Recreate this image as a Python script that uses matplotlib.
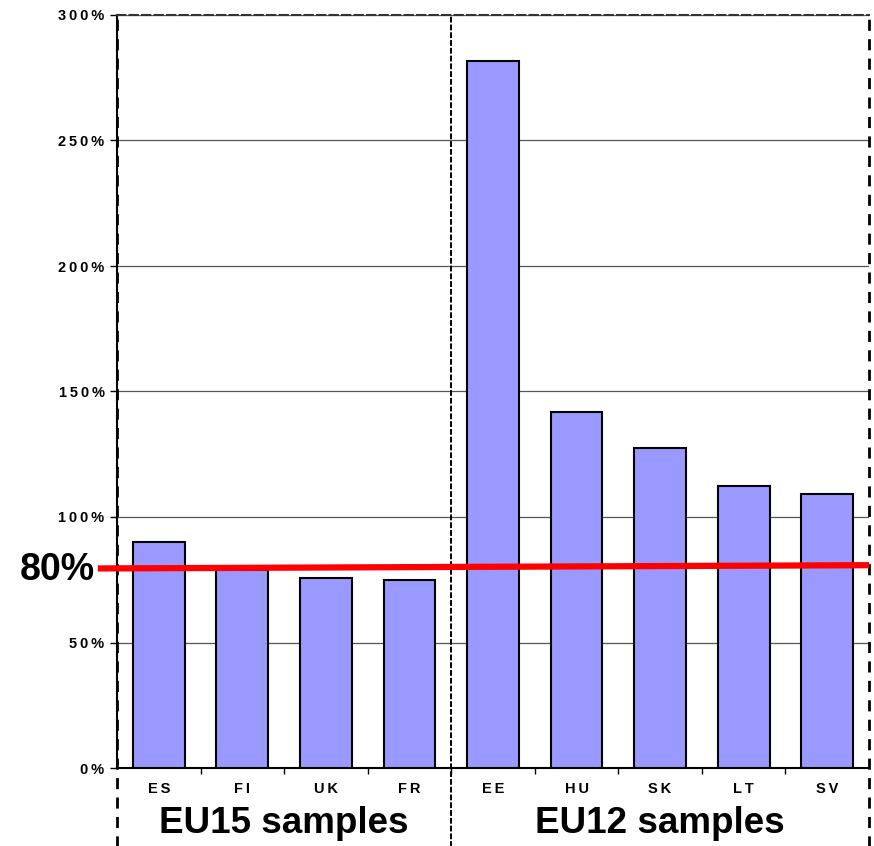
import numpy as np
import matplotlib.pyplot as plt
from matplotlib.ticker import FixedLocator, FuncFormatter

plt.rcParams['font.family'] = ['Liberation Sans', 'DejaVu Sans']

# data
countries = ['ES', 'FI', 'UK', 'FR', 'EE', 'HU', 'SK', 'LT', 'SV']
values = [90, 79, 75.7, 75, 281.5, 142, 127.5, 112.5, 109.3]
groups = ['EU15 samples', 'EU12 samples']
group_sizes = [4, 5]
threshold = 80
yticks = [0, 50, 100, 150, 200, 250, 300]

SP = '\u2009'  # letter spacing like the original's tick labels


def spaced(s):
    return SP.join(s)


fig = plt.figure(figsize=(8.74, 8.46), dpi=100)
ax = fig.add_axes([117 / 874, 78 / 846, 752 / 874, 753 / 846])

x = np.arange(len(countries))
ax.bar(x, values, width=0.62, color='#9999FF', edgecolor='black', linewidth=1.5, zorder=3)

ax.set_xlim(-0.5, len(countries) - 0.5)
ax.set_ylim(0, 300)
ax.set_yticks(yticks)
ax.yaxis.set_major_formatter(FuncFormatter(lambda v, p: spaced(f'{v:.0f}%')))
ax.grid(axis='y', color='#555555', linewidth=0.9, zorder=0)

ax.set_xticks(x)
ax.set_xticklabels([spaced(c) for c in countries])
ax.xaxis.set_minor_locator(FixedLocator(np.arange(0.5, len(countries) - 0.5, 1)))
ax.tick_params(axis='x', which='major', length=0, pad=10)
ax.tick_params(axis='x', which='minor', length=4, width=1, direction='out')
ax.tick_params(axis='y', length=5, width=1, direction='out', pad=4)
for lab in ax.get_xticklabels() + ax.get_yticklabels():
    lab.set_fontsize(10.5)
    lab.set_fontweight('bold')

# frame: solid bottom/left axis lines, dashed outer box
ax.spines['bottom'].set_linewidth(1.5)
ax.spines['left'].set_linewidth(1.5)
ax.spines['top'].set_linestyle((0, (4, 2)))
ax.spines['top'].set_color('#333333')
ax.spines['top'].set_linewidth(1.5)
ax.spines['right'].set_visible(False)

# dashed verticals reaching down to the group labels
trans = ax.get_xaxis_transform()
split = group_sizes[0] - 0.5
for xv, ls, lw in [(-0.5, (0, (4, 3)), 2), (split, (0, (3, 1)), 1.4), (len(countries) - 0.5, (0, (4, 3)), 2)]:
    ax.plot([xv, xv], [-0.105, 1.0], transform=trans, color='black',
            linestyle=ls, linewidth=lw, clip_on=False, zorder=4)

# threshold line, starting left of the axis
ax.plot([-0.73, len(countries) - 0.5], [threshold - 0.5, threshold + 0.8], color='#FF0000',
        linewidth=4.5, clip_on=False, zorder=5, solid_capstyle='butt')
ax.text(-0.76, threshold - 1, f'{threshold}%', ha='right', va='center',
        fontsize=27, fontweight='bold')

# group labels
start = 0
for name, n in zip(groups, group_sizes):
    ax.text(start + (n - 1) / 2, -0.074, name, transform=trans, ha='center', va='center',
            fontsize=26.5, fontweight='bold')
    start += n

fig.savefig('out.png', dpi=100)
